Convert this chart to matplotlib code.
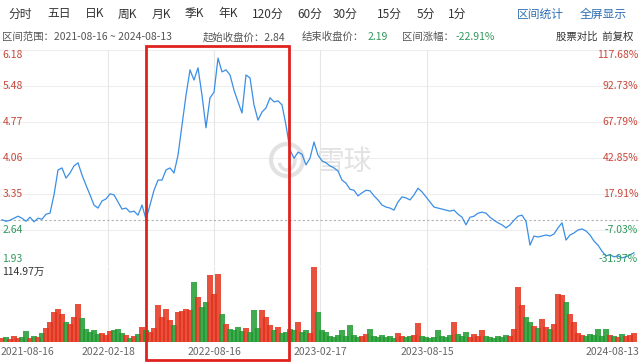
import matplotlib.pyplot as plt
import matplotlib.patches as patches
import numpy as np

plt.rcParams['font.family'] = ['Noto Sans CJK SC', 'DejaVu Sans']

# daily close, sampled along the line (2021-08-16 .. 2024-08-13)
close = [2.84, 2.81, 2.83, 2.87, 2.91, 2.87, 2.81, 2.89, 2.80, 2.87,
         2.85, 2.95, 2.97, 3.33, 3.82, 3.86, 3.66, 3.76, 3.90, 3.96,
         3.72, 3.52, 3.33, 3.13, 3.07, 3.21, 3.25, 3.35, 3.33, 3.19,
         3.05, 3.07, 2.99, 3.01, 2.93, 3.13, 2.85, 3.13, 3.42, 3.62,
         3.62, 3.82, 3.86, 3.76, 4.11, 4.70, 5.29, 5.79, 5.59, 5.83,
         5.29, 4.65, 5.24, 5.35, 6.02, 5.75, 5.79, 5.69, 5.39, 5.16,
         4.94, 5.69, 5.63, 5.10, 4.80, 4.96, 5.04, 5.24, 5.16, 5.18,
         5.10, 4.70, 4.21, 4.05, 4.17, 4.13, 3.92, 4.05, 4.37, 4.11,
         4.00, 3.96, 3.90, 3.86, 3.80, 3.62, 3.56, 3.44, 3.42, 3.31,
         3.37, 3.42, 3.41, 3.31, 3.23, 3.13, 3.09, 3.07, 3.03, 3.19,
         3.29, 3.27, 3.23, 3.33, 3.46, 3.39, 3.29, 3.19, 3.09, 3.07,
         3.05, 3.03, 3.01, 3.03, 2.95, 2.89, 2.74, 2.89, 2.91, 2.97,
         2.99, 2.97, 2.89, 2.83, 2.78, 2.74, 2.68, 2.74, 2.83, 2.91,
         2.93, 2.81, 2.34, 2.52, 2.50, 2.52, 2.54, 2.52, 2.56, 2.68,
         2.78, 2.44, 2.54, 2.58, 2.64, 2.66, 2.62, 2.54, 2.42, 2.34,
         2.22, 2.13, 2.15, 2.11, 2.13, 2.09, 2.11, 2.15, 2.19]

# volume, 万股
volume = [6.1, 7.7, 4.6, 9.2, 6.1, 7.7, 16.9, 6.1, 9.2, 7.7,
          13.8, 21.5, 30.7, 46.0, 50.6, 42.9, 30.7, 27.6, 38.3, 58.3,
          36.8, 19.9, 15.3, 18.4, 12.3, 13.8, 10.7, 16.9, 18.4, 19.9,
          13.8, 10.7, 6.1, 9.2, 12.3, 23.0, 18.4, 15.3, 21.5, 56.7,
          38.3, 50.6, 33.7, 26.1, 46.0, 47.5, 50.6, 49.1, 92.0, 69.0,
          53.7, 61.3, 102.7, 73.6, 104.2, 42.9, 27.6, 19.9, 18.4, 23.0,
          16.9, 21.5, 15.3, 49.1, 21.5, 49.1, 38.3, 26.1, 18.4, 23.0,
          13.8, 15.3, 19.9, 18.4, 30.7, 15.3, 18.4, 13.8, 114.97, 46.0,
          18.4, 15.3, 9.2, 7.7, 10.7, 18.4, 9.2, 26.1, 10.7, 7.7,
          9.2, 12.3, 19.9, 9.2, 7.7, 10.7, 7.7, 9.2, 6.1, 13.8,
          9.2, 7.7, 9.2, 10.7, 29.1, 9.2, 7.7, 6.1, 7.7, 18.4,
          9.2, 7.7, 10.7, 30.7, 12.3, 9.2, 15.3, 7.7, 12.3, 9.2,
          18.4, 9.2, 7.7, 6.1, 9.2, 7.7, 10.7, 9.2, 19.9, 84.3,
          56.7, 38.3, 30.7, 24.5, 21.5, 35.3, 23.0, 19.9, 27.6, 73.6,
          72.1, 61.3, 42.9, 30.7, 13.8, 10.7, 9.2, 12.3, 10.7, 19.9,
          9.2, 19.9, 10.7, 9.2, 7.7, 12.3, 9.2, 10.7, 13.8]

start_close = 2.84
vol_max = 114.97
price_labels = ['6.18', '5.48', '4.77', '4.06', '3.35', '2.64', '1.93']
pct_labels = ['117.68%', '92.73%', '67.79%', '42.85%', '17.91%', '-7.03%', '-31.97%']
date_labels = ['2021-08-16', '2022-02-18', '2022-08-16', '2023-02-17', '2023-08-15', '2024-08-13']
date_pos = [0, 26.5, 53, 79.5, 106.25, 158]
tabs = ['分时', '五日', '日K', '周K', '月K', '季K', '年K', '120分', '60分', '30分', '15分', '5分', '1分']
tab_x = [8, 47, 85, 118, 152, 185, 218, 252, 297, 333, 377, 417, 448]

RED = '#c8473a'
GREEN = '#2f9a5c'

x = np.arange(len(close))
fig = plt.figure(figsize=(6.4, 3.63), dpi=100)

# price panel
ax1 = fig.add_axes([0, 0.2672, 1, 0.5950])
ax1.set_xlim(-0.5, 159.5)
ax1.set_ylim(1.93, 6.18)
ax1.axis('off')
levels = np.linspace(6.18, 1.93, 7)
for lv in levels:
    ax1.axhline(lv, color='#eeeeee', lw=0.8, zorder=0)
for p in date_pos[1:5]:
    ax1.axvline(p, color='#e6e6e6', lw=0.8, zorder=0)
ax1.axhline(start_close, color='#b0b0b0', lw=0.8, ls=(0, (2, 2)), zorder=1)
ax1.plot(x, close, color='#3a8ee6', lw=0.9, zorder=3)

tr = ax1.get_yaxis_transform()
for i, (lv, lab, pl) in enumerate(zip(levels, price_labels, pct_labels)):
    va = 'top' if i == 0 else ('bottom' if i == 6 else 'center')
    c = RED if lv > start_close else GREEN
    yy = lv + (0.04 if i == 6 else 0)
    ax1.text(0.004, yy, lab, transform=tr, ha='left', va=va, fontsize=7.5, color=c, zorder=5)
    ax1.text(0.997, yy, pl, transform=tr, ha='right', va=va, fontsize=7.5, color=c, zorder=5)

# watermark
ax1.text(345 / 640, 1 - 162 / 363, '雪球', transform=fig.transFigure, fontsize=20,
         color='#e2e2e2', ha='center', va='center', zorder=1)
ring = patches.Circle((2.87, 2.03), 0.16, transform=fig.dpi_scale_trans, fill=False,
                      ec='#e2e2e2', lw=3, zorder=1, clip_on=False)
ax1.add_patch(ring)
arc = patches.Arc((2.87, 2.03), 0.16, 0.2, theta1=200, theta2=20, transform=fig.dpi_scale_trans,
                  ec='#e2e2e2', lw=2.5, zorder=1, clip_on=False)
ax1.add_patch(arc)

# volume panel
ax2 = fig.add_axes([0, 0.0579, 1, 0.2066])
ax2.set_xlim(-0.5, 159.5)
ax2.set_ylim(0, vol_max)
ax2.axis('off')
for p in date_pos[1:5]:
    ax2.axvline(p, color='#e6e6e6', lw=0.8, zorder=0)
diff = np.diff(np.r_[close[0], close])
colors = np.where(diff >= 0, '#e3321c', '#1f9a30')
ax2.bar(x, volume, width=1.5, color=colors, alpha=0.85, lw=0, zorder=2)
ax2.text(0.004, 0.93, '114.97万', transform=ax2.transAxes, ha='left', va='center',
         fontsize=7.5, color='#333333')

# date labels
for p, lab in zip(date_pos, date_labels):
    ha = 'left' if p == date_pos[0] else ('right' if p == date_pos[-1] else 'center')
    xp = p + (-0.4 if ha == 'left' else (1.3 if ha == 'right' else 0))
    ax2.text(xp, -0.135, lab, transform=ax2.get_xaxis_transform(), ha=ha, va='center',
             fontsize=7.5, color='#666666')

# header rows
for t, tx in zip(tabs, tab_x):
    fig.text(tx / 640, 1 - 14 / 363, t, fontsize=8.5, color='#333333', va='center')
fig.text(517 / 640, 1 - 14 / 363, '区间统计', fontsize=8.5, color='#2f6fb5', va='center')
fig.text(580 / 640, 1 - 14 / 363, '全屏显示', fontsize=8.5, color='#2f6fb5', va='center')

row2 = 1 - 37 / 363
fig.text(2 / 640, row2, '区间范围：2021-08-16 ~ 2024-08-13', fontsize=7.5, color='#555555', va='center')
fig.text(203 / 640, row2, '起始收盘价：2.84', fontsize=7.5, color='#555555', va='center')
fig.text(302 / 640, row2, '结束收盘价：', fontsize=7.5, color='#555555', va='center')
fig.text(368 / 640, row2, '2.19', fontsize=7.5, color=GREEN, va='center')
fig.text(402 / 640, row2, '区间涨幅：', fontsize=7.5, color='#555555', va='center')
fig.text(456 / 640, row2, '-22.91%', fontsize=7.5, color=GREEN, va='center')
fig.text(633 / 640, row2, '股票对比  前复权', fontsize=7.5, color='#333333', va='center', ha='right')

# highlight box
box = patches.Rectangle((146 / 640, 1 - 360 / 363), 143 / 640, 314 / 363, transform=fig.transFigure,
                        fill=False, ec='#e0221f', lw=2)
fig.patches.append(box)

plt.savefig('out.png', dpi=100)
